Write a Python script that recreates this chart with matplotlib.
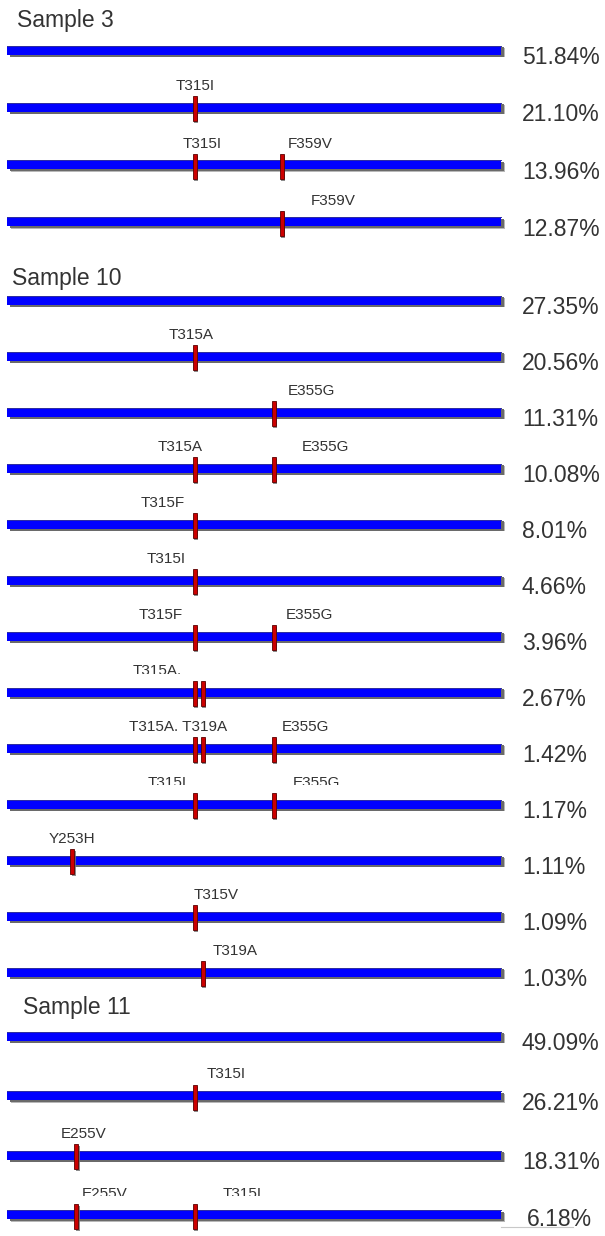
import re
import matplotlib
matplotlib.use('Agg')
from matplotlib import pyplot as plt
from matplotlib.patches import Rectangle

# sequence window drawn for every clone
DOMAIN = (220, 470)

samples = ['Sample 3', 'Sample 10', 'Sample 11']

s3_variants = [[], ['T315I'], ['T315I', 'F359V'], ['F359V']]
s3_labels = [[], ['T315I'], ['T315I', 'F359V'], ['F359V']]
s3_freq = [51.84, 21.10, 13.96, 12.87]

s10_variants = [[], ['T315A'], ['E355G'], ['T315A', 'E355G'], ['T315F'], ['T315I'],
                ['T315F', 'E355G'], ['T315A', 'T319A'], ['T315A', 'T319A', 'E355G'],
                ['T315I', 'E355G'], ['Y253H'], ['T315V'], ['T319A']]
s10_labels = [[], ['T315A'], ['E355G'], ['T315A', 'E355G'], ['T315F'], ['T315I'],
              ['T315F', 'E355G'], ['T315A,'], ['T315A, T319A', 'E355G'],
              ['T315I', 'E355G'], ['Y253H'], ['T315V'], ['T319A']]
s10_freq = [27.35, 20.56, 11.31, 10.08, 8.01, 4.66, 3.96, 2.67, 1.42, 1.17, 1.11, 1.09, 1.03]

s11_variants = [[], ['T315I'], ['E255V'], ['E255V', 'T315I']]
s11_labels = [[], ['T315I'], ['E255V'], ['E255V', 'T315I']]
s11_freq = [49.09, 26.21, 18.31, 6.18]

# layout (pixels)
W, H = 605, 1236
bar_x0 = 7
px_per_res = 1.975
row_start = [50, 300, 1036]
row_step = [57.3, 56, 59.5]
title_x = [17, 12, 23]
title_y = [27, 285, 1014]
label_x = [
    [[], [195], [202, 310], [333]],
    [[], [191], [311], [180, 325], [163], [166], [161, 309], [157], [178, 305],
     [167, 316], [72], [216], [235]],
    [[], [226], [84], [105, 242]],
]
# rows whose labels are cut off above the baseline: (sample, row) -> px
label_cut = {(1, 7): 0.8, (1, 8): 0.5, (1, 9): 2.2, (2, 3): 1.5}
pct_x = {(2, 3): 527}
pct_dy = {(2, 3): -3}

TXT = '#333333'
plt.rcParams['font.family'] = ['Liberation Sans', 'DejaVu Sans']


def residue(name):
    return int(re.findall(r'\d+', name)[0])


fig = plt.figure(figsize=(W / 100, H / 100), dpi=100)
ax = fig.add_axes([0, 0, 1, 1])
xmin = DOMAIN[0] - bar_x0 / px_per_res
xmax = xmin + W / px_per_res
ax.set_xlim(xmin, xmax)
ax.set_ylim(H, 0)
ax.axis('off')
px = 1 / px_per_res  # one pixel in residue units


def cut_below(artist, y):
    box = Rectangle((xmin, -10), xmax - xmin, y + 10, transform=ax.transData)
    artist.set_clip_on(True)
    artist.set_clip_path(box)


data = [(s3_variants, s3_labels, s3_freq),
        (s10_variants, s10_labels, s10_freq),
        (s11_variants, s11_labels, s11_freq)]

for k, (variants, labels, freq) in enumerate(data):
    ax.text(title_x[k] / W, title_y[k], samples[k], transform=ax.get_yaxis_transform(),
            fontsize=16.5, color=TXT, va='baseline', ha='left')
    for i in range(len(freq)):
        yc = row_start[k] + i * row_step[k]
        length = DOMAIN[1] - DOMAIN[0]
        # drop shadow under the bar
        ax.add_patch(Rectangle((DOMAIN[0] + 4 * px, yc - 2), length, 9,
                               fc='#b8b8b8', ec='none', zorder=1))
        ax.add_patch(Rectangle((DOMAIN[0] + 3 * px, yc - 3), length, 9.5,
                               fc='#6a6a6a', ec='none', zorder=1.5))
        ax.add_patch(Rectangle((DOMAIN[0], yc - 4.5), length, 9,
                               fc='#0000ff', ec='none', zorder=2))
        ax.plot([DOMAIN[0], DOMAIN[1]], [yc - 4.5, yc - 4.5], color='#3030a0', lw=0.7, zorder=2.1)

        for v in variants[i]:
            r = residue(v)
            ax.add_patch(Rectangle((r - 0.5 * px, yc - 9), 4 * px, 25,
                                   fc='#707070', ec='none', alpha=0.8, zorder=3))
            ax.add_patch(Rectangle((r - 2 * px, yc - 11), 4 * px, 25,
                                   fc='#cc0000', ec='#5a0000', lw=0.6, zorder=4))

        base = yc - 17
        for lab, lx in zip(labels[i], label_x[k][i]):
            t = ax.text(lx / W, base, lab, transform=ax.get_yaxis_transform(),
                        fontsize=11, color=TXT, ha='center', va='baseline', zorder=5)
            if (k, i) in label_cut:
                cut_below(t, base - label_cut[(k, i)])

        pt = ax.text(pct_x.get((k, i), 522) / W, yc + 7.5 + pct_dy.get((k, i), 0),
                     '%.2f%%' % freq[i], transform=ax.get_yaxis_transform(),
                     fontsize=16.5, color=TXT, ha='left', va='center')
        if (k, i) == (2, 3):
            cut_below(pt, 1226)
            ax.plot([501 / W, 573 / W], [1227, 1227], transform=ax.get_yaxis_transform(),
                    color='#c8c8c8', lw=0.8)

fig.savefig('out.png', dpi=100, facecolor='white')
